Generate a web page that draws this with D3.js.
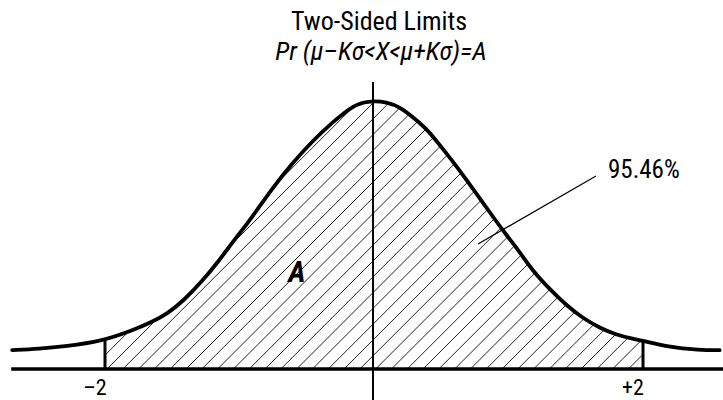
<!DOCTYPE html>
<html>
<head>
<meta charset="utf-8">
<script src="https://cdn.jsdelivr.net/npm/d3@7"></script>
<style>
  html, body { margin: 0; padding: 0; background: #fff; }
  svg { display: block; }
  text { font-family: "Liberation Sans Narrow", "Arial Narrow", "Roboto Condensed", sans-serif; font-stretch: condensed; fill: #000; }
</style>
</head>
<body>
<svg id="chart" width="723" height="400"></svg>
<script>
// ---- data (x in sigma units, y as density) ----
const curveX = [-2.69, -2.49, -2.29, -2.03, -1.79, -1.66, -1.53, -1.41, -1.29, -1.16, -1.04, -0.92, -0.75, -0.60, -0.45, -0.30, -0.15, -0.05, 0.10, 0.20, 0.29, 0.40, 0.49, 0.59, 0.69, 0.79, 0.89, 0.99, 1.07, 1.18, 1.31, 1.43, 1.55, 1.68, 1.80, 1.92, 2.00, 2.18, 2.42, 2.57];
const curveY = [0.028, 0.030, 0.034, 0.041, 0.058, 0.069, 0.083, 0.103, 0.128, 0.159, 0.192, 0.222, 0.271, 0.308, 0.341, 0.369, 0.393, 0.399, 0.398, 0.389, 0.375, 0.356, 0.333, 0.308, 0.281, 0.253, 0.225, 0.198, 0.178, 0.146, 0.118, 0.095, 0.076, 0.061, 0.051, 0.045, 0.042, 0.033, 0.028, 0.028];
const limits = [-2, 2];
const tickLabels = ["\u20132", "+2"];
const titleLines = ["Two-Sided Limits", "Pr (\u03bc\u2013K\u03c3<X<\u03bc+K\u03c3)=A"];
const areaLabel = "A";
const percentLabel = "95.46%";

const svg = d3.select("#chart");
const x = d3.scaleLinear().domain([-2, 2]).range([105, 643]);
const y = d3.scaleLinear().domain([0, 0.399]).range([369, 101]);

const pts = curveX.map((v, i) => [v, curveY[i]]);
const interp = (v) => {
  for (let i = 0; i < pts.length - 1; i++) {
    if (v >= pts[i][0] && v <= pts[i + 1][0]) {
      const t = (v - pts[i][0]) / (pts[i + 1][0] - pts[i][0]);
      return pts[i][1] + t * (pts[i + 1][1] - pts[i][1]);
    }
  }
  return 0;
};

const line = d3.line().x(d => x(d[0])).y(d => y(d[1])).curve(d3.curveBasis);
const curvePath = line(pts);

// clip region: under the curve, between the limits
const defs = svg.append("defs");
const cp = defs.append("clipPath").attr("id", "under");
cp.append("path").attr("d", curvePath + `L${x(curveX[curveX.length - 1])},${y(0)}L${x(curveX[0])},${y(0)}Z`);
const cp2 = defs.append("clipPath").attr("id", "band");
cp2.append("rect").attr("x", x(limits[0])).attr("y", 0)
  .attr("width", x(limits[1]) - x(limits[0])).attr("height", y(0));

// hatch lines (45 degrees) clipped to the shaded area
const hatch = svg.append("g").attr("clip-path", "url(#band)")
  .append("g").attr("clip-path", "url(#under)");
const step = 15.8;
for (let c = x(limits[0]) + 2 - step * 20; c < x(limits[1]) + 300; c += step) {
  hatch.append("line")
    .attr("x1", c).attr("y1", y(0))
    .attr("x2", c + 300).attr("y2", y(0) - 300)
    .attr("stroke", "#222").attr("stroke-width", 1);
}

// baseline
svg.append("line")
  .attr("x1", x(curveX[0]) - 1).attr("x2", 723)
  .attr("y1", y(0)).attr("y2", y(0))
  .attr("stroke", "#000").attr("stroke-width", 3.5);

// center line
svg.append("line")
  .attr("x1", x(0) - 1).attr("x2", x(0) - 1)
  .attr("y1", 82).attr("y2", 400)
  .attr("stroke", "#000").attr("stroke-width", 2);

// limit verticals
limits.forEach(v => {
  svg.append("line")
    .attr("x1", x(v)).attr("x2", x(v))
    .attr("y1", y(interp(v)) - 1).attr("y2", y(0))
    .attr("stroke", "#000").attr("stroke-width", 3);
});

// curve
svg.append("path").attr("d", curvePath)
  .attr("fill", "none").attr("stroke", "#000").attr("stroke-width", 3.8)
  .attr("stroke-linecap", "round");

// tick labels
limits.forEach((v, i) => {
  svg.append("text")
    .attr("x", x(v) - 10).attr("y", 395)
    .attr("text-anchor", "middle")
    .attr("font-size", 22)
    .text(tickLabels[i]);
});

// titles
svg.append("text").attr("x", 379).attr("y", 30)
  .attr("text-anchor", "middle").attr("font-size", 26)
  .text(titleLines[0]);
svg.append("text").attr("x", 381).attr("y", 60)
  .attr("text-anchor", "middle").attr("font-size", 26)
  .attr("font-style", "italic")
  .text(titleLines[1]);

// area label
svg.append("text").attr("x", 297).attr("y", 282)
  .attr("text-anchor", "middle").attr("font-size", 30)
  .attr("font-style", "italic").attr("font-weight", "bold")
  .text(areaLabel);

// pointer and percentage
svg.append("line")
  .attr("x1", 478).attr("y1", 244).attr("x2", 596).attr("y2", 176)
  .attr("stroke", "#000").attr("stroke-width", 1.2);
svg.append("text").attr("x", 608).attr("y", 178)
  .attr("text-anchor", "start").attr("font-size", 25)
  .text(percentLabel);
</script>
</body>
</html>
